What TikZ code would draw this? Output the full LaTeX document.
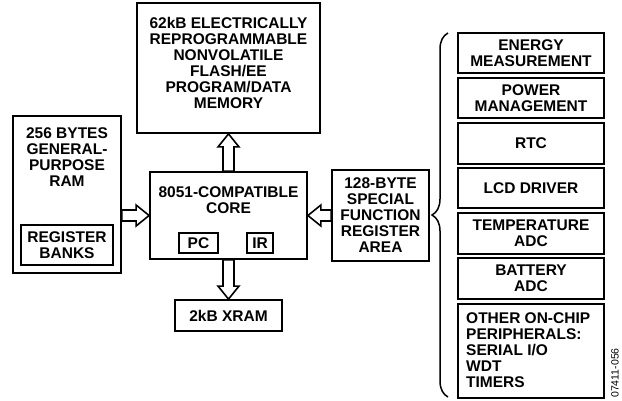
\documentclass[tikz,border=0pt]{standalone}
\usepackage{fontspec}
\setmainfont{Liberation Sans}
\usetikzlibrary{calc,decorations.pathreplacing}

\begin{document}
\begin{tikzpicture}[x=1pt, y=-1pt,
    blk/.style={draw, line width=1.8pt, inner sep=0pt},
    txt/.style={align=center, inner sep=0pt, font=\bfseries\fontsize{15.5}{16}\selectfont},
    fat/.style={draw, fill=white, line width=1.6pt, line join=miter, to path={
        ($(\tikztostart)!5.5pt!90:(\tikztotarget)$) --
        ($(\tikztotarget)!13pt!(\tikztostart)!5.5pt!-90:(\tikztostart)$) --
        ($(\tikztotarget)!13pt!(\tikztostart)!10.5pt!-90:(\tikztostart)$) --
        (\tikztotarget) --
        ($(\tikztotarget)!13pt!(\tikztostart)!10.5pt!90:(\tikztostart)$) --
        ($(\tikztotarget)!13pt!(\tikztostart)!5.5pt!90:(\tikztostart)$) --
        ($(\tikztostart)!5.5pt!-90:(\tikztotarget)$) -- cycle}}]
    \useasboundingbox (0,0) rectangle (622,400);

    % Flash/EE memory
    \node[blk, minimum width=183pt, minimum height=130pt] (flash) at (228.5,68) {};
    \node[txt] (flashtxt) at (228.5,63) {62kB ELECTRICALLY\\REPROGRAMMABLE\\NONVOLATILE\\FLASH/EE\\PROGRAM/DATA\\MEMORY};

    % General-purpose RAM with register banks
    \node[blk, minimum width=108pt, minimum height=157pt] (ram) at (67,194.5) {};
    \node[txt] (ramtxt) at (67,157) {256 BYTES\\GENERAL-\\PURPOSE\\RAM};
    \node[blk, txt, minimum width=92pt, minimum height=40pt] (regbanks) at (67,245) {REGISTER\\BANKS};

    % Core
    \node[blk, minimum width=157pt, minimum height=87pt] (core) at (228.5,215.5) {};
    \node[txt] (coretxt) at (228.5,200) {8051-COMPATIBLE\\CORE};
    \node[blk, txt, minimum width=39pt, minimum height=20pt] (pc) at (198.5,243) {PC};
    \node[blk, txt, minimum width=26pt, minimum height=20pt] (ir) at (260,243) {IR};

    \node[blk, txt, minimum width=107pt, minimum height=31pt] (xram) at (228.5,315.5) {2kB XRAM};

    % SFR area
    \node[blk, txt, minimum width=97pt, minimum height=91pt] (sfr) at (380.5,215.5) {128-BYTE\\SPECIAL\\FUNCTION\\REGISTER\\AREA};

    % Peripherals
    \node[blk, txt, minimum width=146pt, minimum height=40pt] (energy) at (531,53) {ENERGY\\MEASUREMENT};
    \node[blk, txt, minimum width=146pt, minimum height=40pt] (power) at (531,98) {POWER\\MANAGEMENT};
    \node[blk, txt, minimum width=146pt, minimum height=41pt] (rtc) at (531,143.5) {RTC};
    \node[blk, txt, minimum width=146pt, minimum height=40pt] (lcd) at (531,188) {LCD DRIVER};
    \node[blk, txt, minimum width=146pt, minimum height=41pt] (temp) at (531,233.5) {TEMPERATURE\\ADC};
    \node[blk, txt, minimum width=146pt, minimum height=41pt] (battery) at (531,278.5) {BATTERY\\ADC};
    \node[blk, minimum width=146pt, minimum height=94pt] (other) at (531,351) {};
    \node[txt, align=left, anchor=west] (othertxt) at (466,350) {OTHER ON-CHIP\\PERIPHERALS:\\SERIAL I/O\\WDT\\TIMERS};

    % Brace
    \coordinate (brtop) at (448,33);
    \coordinate (brbot) at (448,397);
    \draw[line width=1.5pt, decorate, decoration={brace, amplitude=16pt}] (brbot) -- (brtop);

    % Buses
    \draw[fat] (core.north) to (flash.south);
    \draw[fat] (core.south) to (xram.north);
    \draw[fat] (ram.east |- core.west) to (core.west);
    \draw[fat] (sfr.west) to (core.east);

    \node[rotate=90, font=\fontsize{10.5}{12}\selectfont] (fignum) at (615,373) {07411-056};
\end{tikzpicture}
\end{document}
